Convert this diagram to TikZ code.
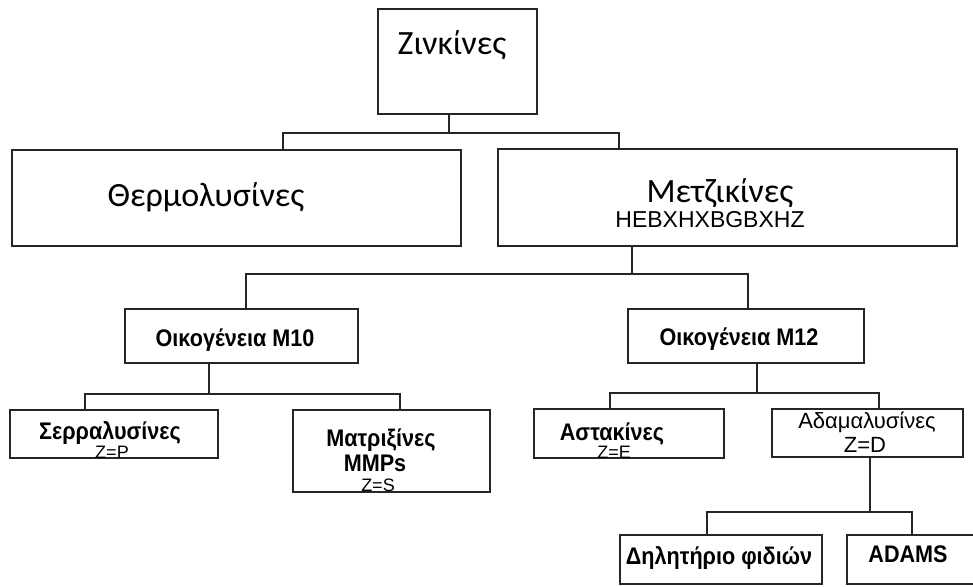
\documentclass[tikz,border=0pt]{standalone}
\usepackage{fontspec}
\newfontfamily\calfont{Carlito}
\newfontfamily\arialfont{Liberation Sans}
\newfontfamily\narrowfont[FakeStretch=0.9]{Liberation Sans}

\tikzset{
	box/.style = {draw = black!85, line width = 1.5pt, inner sep = 0pt},
	link/.style = {draw = black!85, line width = 1.5pt},
	bigtext/.style = {anchor = base, font = \calfont\fontsize{34}{34}\selectfont},
	boldtext/.style = {anchor = base, font = \narrowfont\bfseries\fontsize{24}{24}\selectfont},
	plaintext/.style = {anchor = base, font = \arialfont\fontsize{22}{22}\selectfont},
	ztext/.style = {anchor = base, font = \arialfont\fontsize{18}{18}\selectfont}
}

\begin{document}
\begin{tikzpicture}[x = 1pt, y = -1pt]
	\useasboundingbox (0,0) rectangle (973,586);
	\clip (0,0) rectangle (973,586);

	% boxes
	\node [box, minimum width = 159, minimum height = 105] (zink) at (457.5,61.5) {};
	\node [box, minimum width = 449, minimum height = 96] (therm) at (236.5,198) {};
	\node [box, minimum width = 459, minimum height = 97] (metz) at (727.5,197.5) {};
	\node [box, minimum width = 233, minimum height = 54] (m10) at (241.5,336) {};
	\node [box, minimum width = 236, minimum height = 54] (m12) at (746,336) {};
	\node [box, minimum width = 208, minimum height = 48] (serra) at (114,434) {};
	\node [box, minimum width = 197, minimum height = 82] (matrix) at (391.5,451) {};
	\node [box, minimum width = 190, minimum height = 49] (astak) at (629,433.5) {};
	\node [box, minimum width = 191, minimum height = 48] (adam) at (867.5,433) {};
	\node [box, minimum width = 202, minimum height = 49] (venom) at (721,559.5) {};
	\node [box, minimum width = 153, minimum height = 49] (adams) at (923.5,559.5) {};

	% texts
	\node [bigtext] (zinkT) at (452,55) {Ζινκίνες};
	\node [bigtext] (thermT) at (206,206) {Θερμολυσίνες};
	\node [bigtext] (metzT) at (720,202) {Μετζικίνες};
	\node [ztext, font = \arialfont\fontsize{23}{23}\selectfont] (metzZ) at (710,227) {HEBXHXBGBXHZ};
	\node [boldtext] (m10T) at (235,346) {Οικογένεια M10};
	\node [boldtext] (m12T) at (739,345) {Οικογένεια M12};
	\node [boldtext] (serraT) at (110,439) {Σερραλυσίνες};
	\node [ztext] (serraZ) at (112,458) {Z=P};
	\node [boldtext] (matrixT) at (381,446) {Ματριξίνες};
	\node [boldtext] (matrixM) at (375,471) {MMPs};
	\node [ztext] (matrixZ) at (378,491) {Z=S};
	\node [boldtext] (astakT) at (612,440) {Αστακίνες};
	\node [ztext] (astakZ) at (614,458) {Z=E};
	\node [plaintext] (adamT) at (867,428) {Αδαμαλυσίνες};
	\node [plaintext] (adamZ) at (865,452) {Z=D};
	\node [boldtext] (venomT) at (719,564) {Δηλητήριο φιδιών};
	\node [boldtext] (adamsT) at (908,562) {ADAMS};

	% connectors
	\coordinate (k1l) at (283,133);
	\coordinate (k1m) at (449,133);
	\coordinate (k1r) at (619,133);
	\draw [link] (zink.south -| k1m) -- (k1m);
	\draw [link] (therm.north -| k1l) -- (k1l) -- (k1r) -- (metz.north -| k1r);

	\coordinate (k2l) at (246,274);
	\coordinate (k2m) at (632,274);
	\coordinate (k2r) at (748,274);
	\draw [link] (metz.south -| k2m) -- (k2m);
	\draw [link] (m10.north -| k2l) -- (k2l) -- (k2r) -- (m12.north -| k2r);

	\coordinate (k3l) at (85,394);
	\coordinate (k3m) at (209,394);
	\coordinate (k3r) at (400,394);
	\draw [link] (m10.south -| k3m) -- (k3m);
	\draw [link] (serra.north -| k3l) -- (k3l) -- (k3r) -- (matrix.north -| k3r);

	\coordinate (k4l) at (610,393);
	\coordinate (k4m) at (757,393);
	\coordinate (k4r) at (879,393);
	\draw [link] (m12.south -| k4m) -- (k4m);
	\draw [link] (astak.north -| k4l) -- (k4l) -- (k4r) -- (adam.north -| k4r);

	\coordinate (k5l) at (707,512);
	\coordinate (k5m) at (870,512);
	\coordinate (k5r) at (912,512);
	\draw [link] (adam.south -| k5m) -- (k5m);
	\draw [link] (venom.north -| k5l) -- (k5l) -- (k5r) -- (adams.north -| k5r);

\end{tikzpicture}
\end{document}
